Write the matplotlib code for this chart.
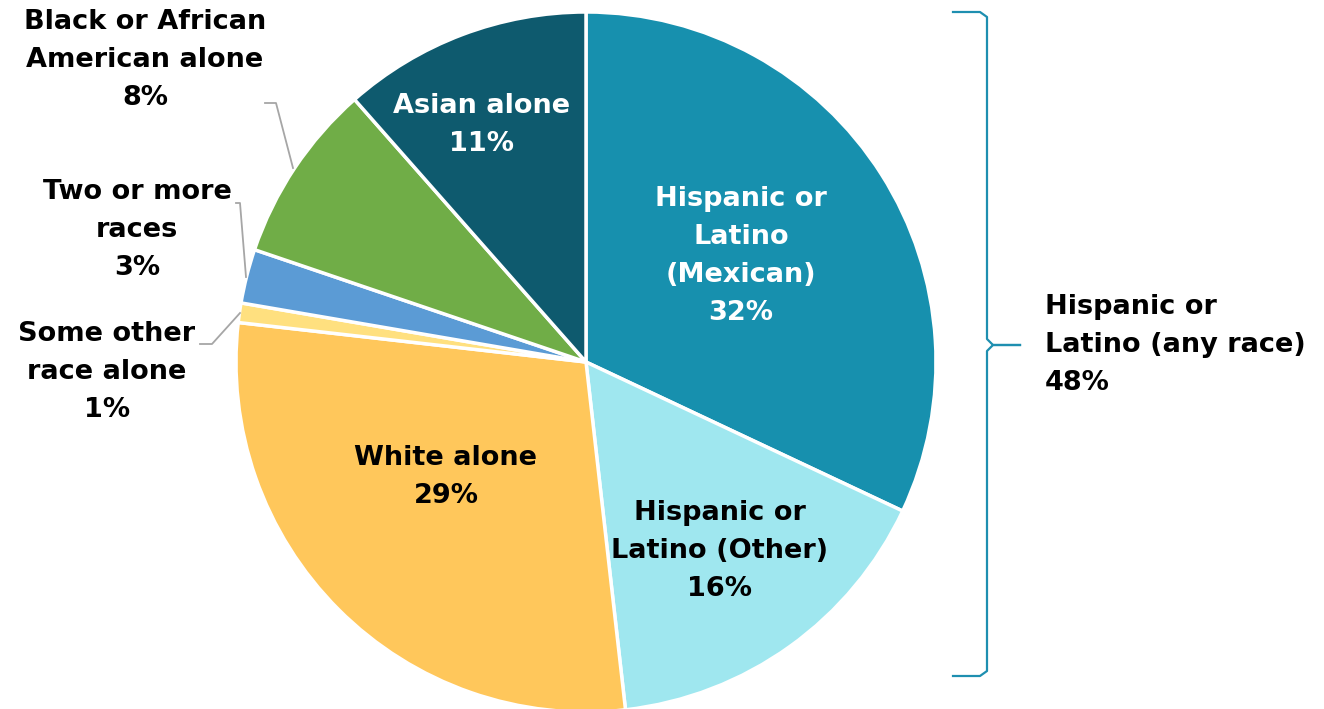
import matplotlib
matplotlib.use("Agg")
import matplotlib.pyplot as plt

# slice data, clockwise from 12 o'clock
groups = ["Hispanic or Latino (Mexican)", "Hispanic or Latino (Other)", "White alone",
          "Some other race alone", "Two or more races", "Black or African American alone",
          "Asian alone"]
shares = [32.0, 16.2, 28.6, 0.9, 2.5, 8.3, 11.5]
colors = ["#1790AE", "#9FE7EF", "#FFC75B", "#FFE07F", "#5B9BD5", "#70AD47", "#0E5A6E"]

plt.rcParams['font.family'] = ['DejaVu Sans']

W, H = 1324, 709
fig = plt.figure(figsize=(W / 100, H / 100), dpi=100)
ax = fig.add_axes([0, 0, 1, 1])

cx, cy, r = 586, H - 362, 350
ax.pie(shares, colors=colors, startangle=90, counterclock=False,
       center=(cx, cy), radius=r, frame=True,
       wedgeprops=dict(edgecolor="white", linewidth=2.5))
ax.set_xlim(0, W)
ax.set_ylim(0, H)
ax.axis("off")


def y(p):
    # pixel row -> data y
    return H - p


fs = 19.5
ls = 1.6
txt = dict(fontsize=fs, fontweight="bold", ha="center", va="center", linespacing=ls)

# labels inside the pie
ax.text(741, y(256), "Hispanic or\nLatino\n(Mexican)\n32%", color="white", **txt)
ax.text(720, y(551), "Hispanic or\nLatino (Other)\n16%", color="black", **txt)
ax.text(446, y(477), "White alone\n29%", color="black", **txt)
ax.text(482, y(125), "Asian alone\n11%", color="white", **txt)

# outside labels
ax.text(145, y(60), "Black or African\nAmerican alone\n8%", color="black", **txt)
ax.text(137, y(230), "Two or more\nraces\n3%", color="black", **txt)
ax.text(107, y(372), "Some other\nrace alone\n1%", color="black", **txt)

# leader lines
lc = "#A6A6A6"
ax.plot([265, 276, 293], [y(103), y(103), y(168)], color=lc, lw=1.3)
ax.plot([236, 240, 246], [y(203), y(203), y(277)], color=lc, lw=1.3)
ax.plot([200, 212, 240], [y(344), y(344), y(313)], color=lc, lw=1.3)

# bracket for Hispanic or Latino (any race)
bc = "#1E8FB0"
ax.plot([953, 980, 987, 987, 993, 1020], [y(12), y(12), y(17), y(339), y(345), y(345)],
        color=bc, lw=1.6, solid_joinstyle="round")
ax.plot([953, 980, 987, 987, 993, 1020], [y(676), y(676), y(671), y(351), y(345), y(345)],
        color=bc, lw=1.6, solid_joinstyle="round")

ax.text(1045, y(345), "Hispanic or\nLatino (any race)\n48%", color="black",
        fontsize=fs, fontweight="bold", ha="left", va="center", linespacing=ls)

fig.savefig("out.png", dpi=100)
